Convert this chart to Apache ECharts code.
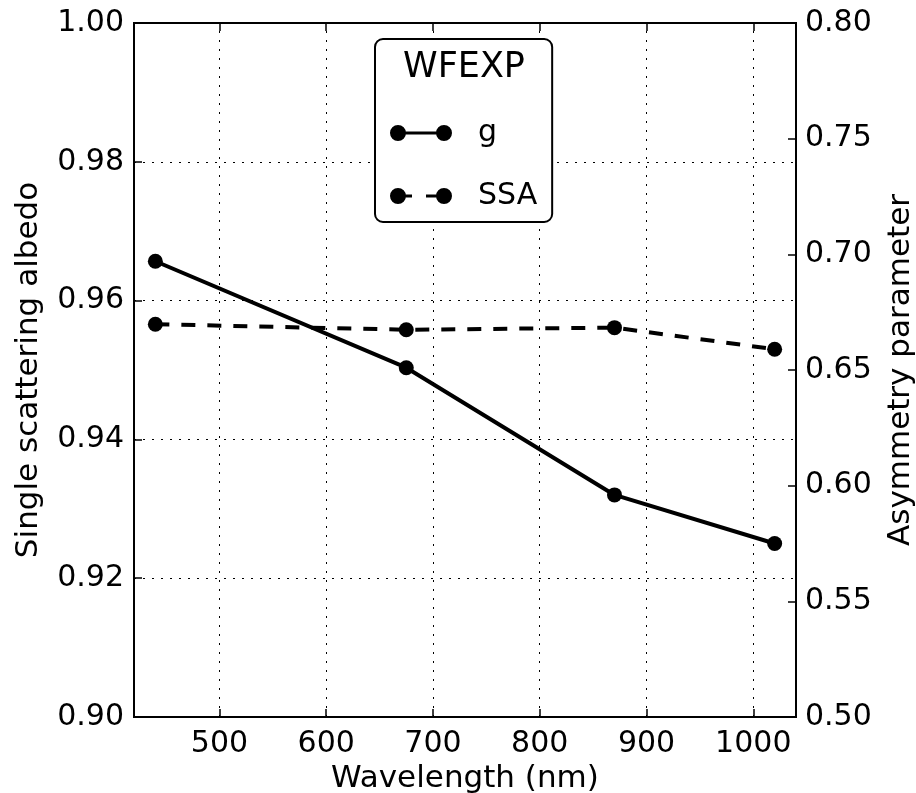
<!DOCTYPE html>
<html><head><meta charset="utf-8">
<script src="https://cdn.jsdelivr.net/npm/echarts@6/dist/echarts.min.js"></script>
<style>html,body{margin:0;padding:0;background:#fff}#c{width:916px;height:793px}</style>
</head><body><div id="c"></div>
<script>
const wavelengths = [440, 675, 870, 1020];
const gValues = [0.697, 0.651, 0.596, 0.575];
const ssaValues = [0.9566, 0.9558, 0.9561, 0.9530];
const xTicks = [500, 600, 700, 800, 900, 1000];
const leftTicks = [0.90, 0.92, 0.94, 0.96, 0.98, 1.00];
const rightTicks = [0.50, 0.55, 0.60, 0.65, 0.70, 0.75, 0.80];
const legendTitle = 'WFEXP';

const FF = 'DejaVu Sans';
const solidIcon = 'path://M0,8 A8,8 0 1,1 16,8 A8,8 0 1,1 0,8 Z M46,8 A8,8 0 1,1 62,8 A8,8 0 1,1 46,8 Z M15,6.5 L47,6.5 L47,9.5 L15,9.5 Z';
const dashIcon = 'path://M0,8 A8,8 0 1,1 16,8 A8,8 0 1,1 0,8 Z M46,8 A8,8 0 1,1 62,8 A8,8 0 1,1 46,8 Z M15,6.5 L22,6.5 L22,9.5 L15,9.5 Z M36,6.5 L47,6.5 L47,9.5 L36,9.5 Z';

const chart = echarts.init(document.getElementById('c'), null, {renderer: 'canvas'});
const tickStyle = {show: true, inside: true, length: 8, lineStyle: {color: '#000', width: 1.5}};
const gridLine = {color: '#000', width: 1, type: [2, 7]};

chart.setOption({
  animation: false,
  backgroundColor: '#fff',
  grid: {left: 134, right: 120, top: 23, bottom: 76, show: true, borderColor: '#000', borderWidth: 2, backgroundColor: 'transparent', containLabel: false, outerBoundsMode: 'none'},
  xAxis: [{
    type: 'value', min: 420, max: 1040, position: 'bottom',
    name: 'Wavelength (nm)', nameLocation: 'middle', nameGap: 46,
    nameTextStyle: {fontFamily: FF, fontSize: 31, color: '#000'},
    axisLine: {show: false},
    axisTick: Object.assign({customValues: xTicks}, tickStyle),
    axisLabel: {customValues: xTicks, fontFamily: FF, fontSize: 30, color: '#000', margin: 12, formatter: v => String(v)},
    splitLine: {show: false}
  }, {
    type: 'value', min: 420, max: 1040, position: 'top',
    axisLine: {show: false},
    axisTick: Object.assign({customValues: xTicks}, tickStyle),
    axisLabel: {show: false},
    splitLine: {show: false}
  }],
  yAxis: [{
    type: 'value', min: leftTicks[0], max: leftTicks[leftTicks.length - 1], interval: 0.02, position: 'left',
    name: 'Single scattering albedo', nameLocation: 'middle', nameGap: 90, nameRotate: 90,
    nameTextStyle: {fontFamily: FF, fontSize: 31, color: '#000'},
    axisLine: {show: false},
    axisTick: tickStyle,
    axisLabel: {fontFamily: FF, fontSize: 30, color: '#000', margin: 10, formatter: v => v.toFixed(2)},
    splitLine: {show: true, lineStyle: gridLine}
  }, {
    type: 'value', min: rightTicks[0], max: rightTicks[rightTicks.length - 1], interval: 0.05, position: 'right',
    name: 'Asymmetry parameter', nameLocation: 'middle', nameGap: 89, nameRotate: 90,
    nameTextStyle: {fontFamily: FF, fontSize: 31, color: '#000'},
    axisLine: {show: false},
    axisTick: tickStyle,
    axisLabel: {fontFamily: FF, fontSize: 30, color: '#000', margin: 9, formatter: v => v.toFixed(2)},
    splitLine: {show: false}
  }],
  legend: {
    orient: 'vertical', left: 375, top: 39,
    padding: [79, 15, 11, 15],
    itemGap: 33, itemWidth: 62, itemHeight: 16,
    backgroundColor: '#fff', borderColor: '#000', borderWidth: 2, borderRadius: 8,
    textStyle: {fontFamily: FF, fontSize: 30, color: '#000', lineHeight: 30, padding: [0, 0, 0, 21]},
    itemStyle: {color: '#000', borderWidth: 0},
    data: [{name: 'g', icon: solidIcon}, {name: 'SSA', icon: dashIcon}],
    z: 10
  },
  graphic: [{
    type: 'text', x: 464, y: 68, z: 100,
    style: {text: legendTitle, fontFamily: FF, fontSize: 35, fill: '#000', align: 'center', verticalAlign: 'middle'}
  }],
  series: [{
    name: 'g', type: 'line', xAxisIndex: 0, yAxisIndex: 1,
    data: wavelengths.map((w, i) => [w, gValues[i]]),
    symbol: 'circle', symbolSize: 15, showSymbol: true,
    lineStyle: {color: '#000', width: 4, type: 'solid'},
    itemStyle: {color: '#000', borderWidth: 0},
    z: 5
  }, {
    name: 'SSA', type: 'line', xAxisIndex: 0, yAxisIndex: 0,
    data: wavelengths.map((w, i) => [w, ssaValues[i]]),
    symbol: 'circle', symbolSize: 15, showSymbol: true,
    lineStyle: {color: '#000', width: 4, type: [14, 12]},
    itemStyle: {color: '#000', borderWidth: 0},
    markLine: {
      silent: true, symbol: 'none', label: {show: false},
      lineStyle: gridLine,
      data: xTicks.map(v => ({xAxis: v}))
    },
    z: 5
  }]
});
</script></body></html>
